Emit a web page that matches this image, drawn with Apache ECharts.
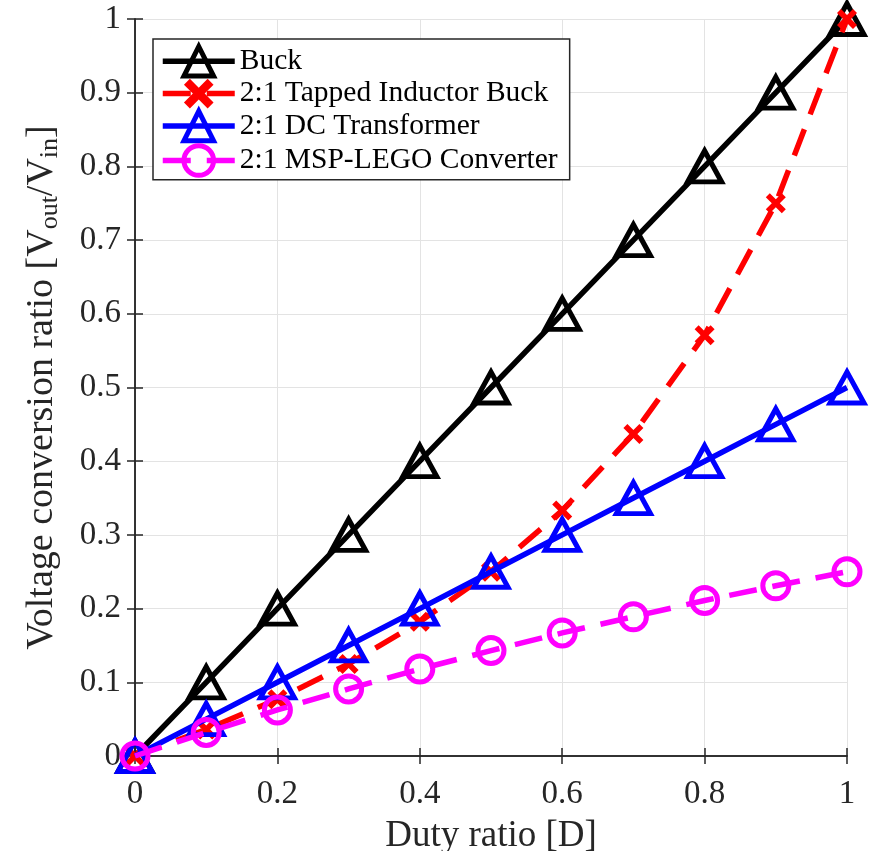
<!DOCTYPE html>
<html>
<head>
<meta charset="utf-8">
<script src="https://cdn.jsdelivr.net/npm/echarts@6/dist/echarts.min.js"></script>
<style>
  html, body { margin: 0; padding: 0; background: #fff; }
  #chart { width: 869px; height: 851px; }
</style>
</head>
<body>
<div id="chart"></div>
<script>
const duty = [0, 0.1, 0.2, 0.3, 0.4, 0.5, 0.6, 0.7, 0.8, 0.9, 1];
const buck = [0, 0.1, 0.2, 0.3, 0.4, 0.5, 0.6, 0.7, 0.8, 0.9, 1];
const tappedBuck = [0, 0.036, 0.077, 0.125, 0.182, 0.25, 0.333, 0.437, 0.571, 0.75, 1];
const dcTransformer = [0, 0.05, 0.1, 0.15, 0.2, 0.25, 0.3, 0.35, 0.4, 0.45, 0.5];
const mspLego = [0, 0.032, 0.0625, 0.091, 0.118, 0.143, 0.167, 0.189, 0.211, 0.231, 0.25];
const xTicks = [0, 0.2, 0.4, 0.6, 0.8, 1];

const font = "Liberation Serif";
const axisColor = "#262626";
const dash = [28, 16];

function pairs(ys) {
  return duty.map((d, i) => [d, ys[i]]);
}

const crossPath = "path://M0,2 L2,0 L5,3 L8,0 L10,2 L7,5 L10,8 L8,10 L5,7 L2,10 L0,8 L3,5 Z";

const chart = echarts.init(document.getElementById("chart"));

const tickLabel = {
  fontFamily: font,
  fontSize: 33,
  color: axisColor,
};

chart.setOption({
  animation: false,
  backgroundColor: "#fff",
  grid: { left: 135, right: 22, top: 19, bottom: 95, outerBoundsMode: "none", containLabel: false },
  legend: {
    left: 153,
    top: 39,
    orient: "vertical",
    backgroundColor: "#fff",
    borderColor: "#262626",
    borderWidth: 1.5,
    padding: [5, 12, 2, 7],
    itemWidth: 72,
    itemHeight: 37,
    itemGap: 0,
    textStyle: { fontFamily: font, fontSize: 29.5, color: "#000" },
    lineStyle: { width: 5.5 },
    itemStyle: { borderWidth: 5 },
    data: [
      { name: "Buck" },
      { name: "2:1 Tapped Inductor Buck", lineStyle: { width: 5.5, type: dash } },
      { name: "2:1 DC Transformer" },
      { name: "2:1 MSP-LEGO Converter", lineStyle: { width: 5.5, type: dash } },
    ],
  },
  xAxis: [
    {
      type: "value",
      min: 0,
      max: 1,
      interval: 0.2,
      name: "Duty ratio [D]",
      nameLocation: "middle",
      nameGap: 62,
      nameTextStyle: { fontFamily: font, fontSize: 37, color: axisColor },
      axisLine: { lineStyle: { color: axisColor, width: 1.5 } },
      axisTick: { inside: true, length: 8, lineStyle: { color: axisColor, width: 1.5 } },
      axisLabel: Object.assign({ margin: 22, formatter: v => xTicks.includes(+v.toFixed(1)) ? String(+v.toFixed(1)) : "" }, tickLabel),
      splitLine: { lineStyle: { color: "#e3e3e3", width: 1 } },
    },
    {
      type: "value",
      position: "top",
      min: 0,
      max: 1,
      interval: 0.2,
      axisLine: { show: true, lineStyle: { color: axisColor, width: 1.5 } },
      axisTick: { inside: true, length: 8, lineStyle: { color: axisColor, width: 1.5 } },
      axisLabel: { show: false },
      splitLine: { show: false },
    },
  ],
  yAxis: [
    {
      type: "value",
      min: 0,
      max: 1,
      interval: 0.1,
      name: "Voltage conversion ratio [V{sub|out}/V{sub|in}]",
      nameLocation: "middle",
      nameRotate: 90,
      nameGap: 72,
      nameTextStyle: {
        fontFamily: font,
        fontSize: 38,
        color: axisColor,
        rich: {
          sub: { fontFamily: font, fontSize: 26, color: axisColor, padding: [16, 0, 0, 0] },
        },
      },
      axisLine: { lineStyle: { color: axisColor, width: 1.5 } },
      axisTick: { inside: true, length: 8, lineStyle: { color: axisColor, width: 1.5 } },
      axisLabel: Object.assign({ margin: 14, formatter: v => String(+v.toFixed(1)) }, tickLabel),
      splitLine: { lineStyle: { color: "#e3e3e3", width: 1 } },
    },
    {
      type: "value",
      position: "right",
      min: 0,
      max: 1,
      interval: 0.1,
      axisLine: { show: true, lineStyle: { color: axisColor, width: 1.5 } },
      axisTick: { inside: true, length: 8, lineStyle: { color: axisColor, width: 1.5 } },
      axisLabel: { show: false },
      splitLine: { show: false },
    },
  ],
  series: [
    {
      name: "Buck",
      type: "line",
      data: pairs(buck),
      symbol: "triangle",
      symbolSize: [34, 31],
      showAllSymbol: true,
      lineStyle: { color: "#000", width: 5.5 },
      itemStyle: { color: "rgba(0,0,0,0)", borderColor: "#000", borderWidth: 5 },
      z: 2,
    },
    {
      name: "2:1 Tapped Inductor Buck",
      type: "line",
      data: pairs(tappedBuck),
      symbol: crossPath,
      symbolSize: 20,
      showAllSymbol: true,
      lineStyle: { color: "#ff0000", width: 5.5, type: dash },
      itemStyle: { color: "#ff0000", borderWidth: 0 },
      z: 3,
    },
    {
      name: "2:1 DC Transformer",
      type: "line",
      data: pairs(dcTransformer),
      symbol: "triangle",
      symbolSize: [34, 31],
      showAllSymbol: true,
      lineStyle: { color: "#0000ff", width: 5.5 },
      itemStyle: { color: "rgba(0,0,0,0)", borderColor: "#0000ff", borderWidth: 5 },
      z: 4,
    },
    {
      name: "2:1 MSP-LEGO Converter",
      type: "line",
      data: pairs(mspLego),
      symbol: "circle",
      symbolSize: 26,
      showAllSymbol: true,
      lineStyle: { color: "#ff00ff", width: 5.5, type: dash },
      itemStyle: { color: "rgba(0,0,0,0)", borderColor: "#ff00ff", borderWidth: 5 },
      z: 5,
    },
  ],
});
</script>
</body>
</html>
